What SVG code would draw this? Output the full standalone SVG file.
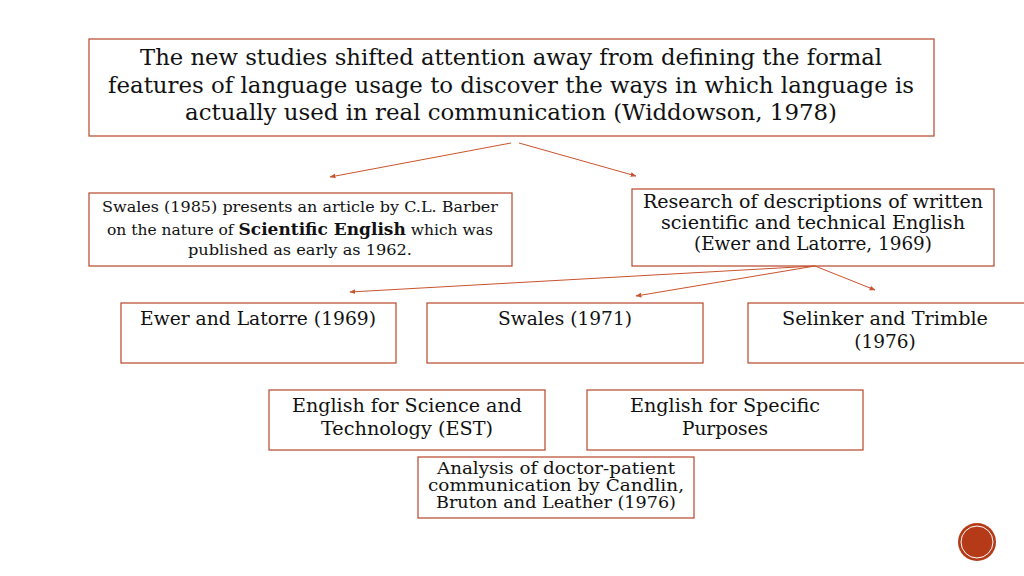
<svg xmlns="http://www.w3.org/2000/svg" width="1024" height="576" viewBox="0 0 1024 576">
<style>
.b{fill:#fff;stroke:#b8472a;stroke-width:1.2}
text{font-family:"DejaVu Serif","Liberation Serif",serif;fill:#111;text-anchor:middle}
.c{stroke:#c9532e;stroke-width:1;fill:none;marker-end:url(#a)}
</style>
<defs><marker id="a" viewBox="0 0 10 10" refX="9" refY="5" markerWidth="6" markerHeight="6" orient="auto"><path d="M0,1L10,5L0,9z" fill="#c9532e"/></marker></defs>
<rect width="1024" height="576" fill="#fff"/>
<g id="n0"><rect class="b" x="89" y="39" width="845" height="97"/>
<text font-size="23"><tspan x="511" y="65" textLength="742" lengthAdjust="spacingAndGlyphs">The new studies shifted attention away from defining the formal</tspan><tspan x="511" y="93" textLength="806" lengthAdjust="spacingAndGlyphs">features of language usage to discover the ways in which language is</tspan><tspan x="511" y="120" textLength="652" lengthAdjust="spacingAndGlyphs">actually used in real communication (Widdowson, 1978)</tspan></text></g>
<g id="n1"><rect class="b" x="89" y="193" width="423" height="73"/>
<text font-size="15.5"><tspan x="300" y="212" textLength="396" lengthAdjust="spacingAndGlyphs">Swales (1985) presents an article by C.L. Barber</tspan><tspan x="300" y="235">on the nature of <tspan font-weight="bold" font-size="17">Scientific English</tspan> which was</tspan><tspan x="300" y="255" textLength="224" lengthAdjust="spacingAndGlyphs">published as early as 1962.</tspan></text></g>
<g id="n2"><rect class="b" x="632" y="189" width="362" height="77"/>
<text font-size="18.5"><tspan x="813" y="208" textLength="340" lengthAdjust="spacingAndGlyphs">Research of descriptions of written</tspan><tspan x="813" y="229" textLength="304" lengthAdjust="spacingAndGlyphs">scientific and technical English</tspan><tspan x="813" y="250" textLength="238" lengthAdjust="spacingAndGlyphs">(Ewer and Latorre, 1969)</tspan></text></g>
<g id="n3"><rect class="b" x="121" y="303" width="275" height="60"/><text font-size="18.5" x="258" y="325" textLength="236" lengthAdjust="spacingAndGlyphs">Ewer and Latorre (1969)</text></g>
<g id="n4"><rect class="b" x="427" y="303" width="276" height="60"/><text font-size="18.5" x="565" y="325" textLength="134" lengthAdjust="spacingAndGlyphs">Swales (1971)</text></g>
<g id="n5"><rect class="b" x="748" y="303" width="280" height="60"/><text font-size="18.5"><tspan x="885" y="325" textLength="206" lengthAdjust="spacingAndGlyphs">Selinker and Trimble</tspan><tspan x="885" y="348">(1976)</tspan></text></g>
<g id="n6"><rect class="b" x="269" y="390" width="276" height="60"/><text font-size="18.5"><tspan x="407" y="412" textLength="230" lengthAdjust="spacingAndGlyphs">English for Science and</tspan><tspan x="407" y="435" textLength="172" lengthAdjust="spacingAndGlyphs">Technology (EST)</tspan></text></g>
<g id="n7"><rect class="b" x="587" y="390" width="276" height="60"/><text font-size="18.5"><tspan x="725" y="412" textLength="190" lengthAdjust="spacingAndGlyphs">English for Specific</tspan><tspan x="725" y="435">Purposes</tspan></text></g>
<g id="n8"><rect class="b" x="418" y="457" width="276" height="61"/><text font-size="17"><tspan x="556" y="474" textLength="238" lengthAdjust="spacingAndGlyphs">Analysis of doctor-patient</tspan><tspan x="556" y="491" textLength="256" lengthAdjust="spacingAndGlyphs">communication by Candlin,</tspan><tspan x="556" y="508" textLength="240" lengthAdjust="spacingAndGlyphs">Bruton and Leather (1976)</tspan></text></g>
<g id="connectors">
<path class="c" d="M511,143L330,177"/>
<path class="c" d="M519,143L636,176"/>
<path class="c" d="M815,266L350,292"/>
<path class="c" d="M815,266L636,296"/>
<path class="c" d="M815,266L875,290"/>
</g>
<g id="badge"><circle cx="977" cy="542" r="19" fill="#b53a17"/><circle cx="977" cy="542" r="16" fill="none" stroke="#fff" stroke-width="1"/></g>
</svg>
